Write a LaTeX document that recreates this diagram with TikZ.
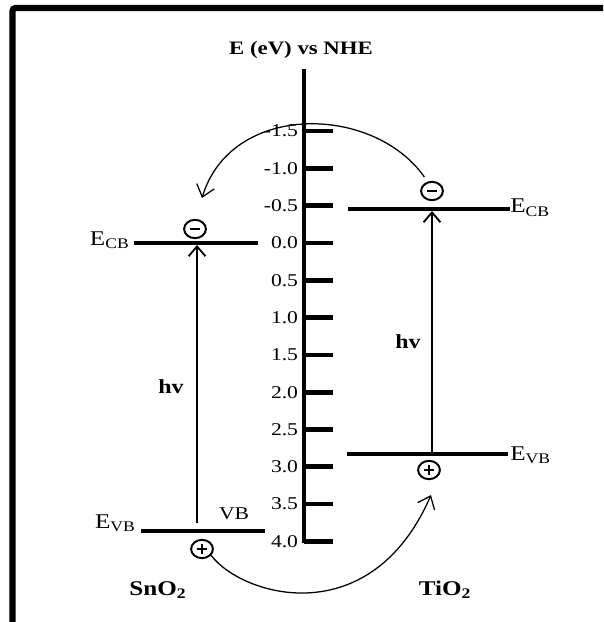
\documentclass[tikz,border=0pt]{standalone}
\usepackage{fontspec}
\setmainfont{Liberation Serif}
\usetikzlibrary{arrows.meta,shapes.geometric}
\newcommand{\pxsize}[1]{\fontsize{#1}{#1}\selectfont}

\begin{document}
\begin{tikzpicture}[x=0.025cm,y=-0.025cm,
    txt/.style={inner sep=0pt,xscale=1.2},
    ttl/.style={txt,font=\pxsize{13.5pt}\bfseries},
    ticklbl/.style={txt,font=\pxsize{12.8pt}},
    elbl/.style={txt,font=\pxsize{14.9pt}},
    matlbl/.style={txt,font=\pxsize{14.9pt}\bfseries},
    hvlbl/.style={txt,font=\pxsize{14.2pt}\bfseries},
    band/.style={line width=2.2pt},
    tickmark/.style={line width=3.4pt},
    charge/.style={draw,ellipse,line width=1.4pt,inner sep=0pt,
      minimum width=15.5pt,minimum height=13pt},
    minus/.style={charge,path picture={
      \draw[line width=1.7pt] ([xshift=-3.3pt]path picture bounding box.center)
        -- ([xshift=3.3pt]path picture bounding box.center);}},
    plus/.style={charge,path picture={
      \draw[line width=1.7pt] ([xshift=-3.3pt]path picture bounding box.center)
        -- ([xshift=3.3pt]path picture bounding box.center);
      \draw[line width=1.7pt] ([yshift=-3.3pt]path picture bounding box.center)
        -- ([yshift=3.3pt]path picture bounding box.center);}},
    excite/.style={line width=1.3pt,-{Straight Barb[length=7pt,width=12pt,line width=1.3pt]}},
    transfer/.style={line width=0.9pt,-{Straight Barb[length=8pt,width=13pt,line width=0.9pt]}}]
  \useasboundingbox (0,0) rectangle (603,622);
  \clip (0,0) rectangle (603,622);
  \draw[line width=4.3pt,rounded corners=2pt] (12.5,8) rectangle (650,670);

  % energy scale
  \node[ttl] (title) at (301,50) {E (eV) vs NHE};
  \draw[line width=2.9pt] (304,69) -- (304,543);
  \foreach \e [count=\i] in {-1.5,-1.0,-0.5,0.0,0.5,1.0,1.5,2.0,2.5,3.0,3.5,4.0} {
    \coordinate (tk\i) at (304,{243+74.6*\e});
    \draw[tickmark] (tk\i) -- ++(29,0);
    \node[ticklbl,anchor=east] (lb\i) at ([xshift=-4pt]tk\i) {\e};
  }

  % SnO2
  \coordinate (snCBl) at (134,243);
  \coordinate (snCBr) at (258,243);
  \coordinate (snVBl) at (141,531);
  \coordinate (snVBr) at (265,531);
  \draw[band] (snCBl) -- (snCBr);
  \draw[band] (snVBl) -- (snVBr);
  \node[elbl,anchor=base east] (snCB) at (130,245) {E\textsubscript{CB}};
  \node[elbl,anchor=base east] (snVB) at (136,528) {E\textsubscript{VB}};
  \node[ticklbl,anchor=base] (vb) at (234,519) {VB};
  \node[minus] (snElec) at (195,229) {};
  \node[plus] (snHole) at (202,549) {};
  \coordinate (snUp0) at (197,523);
  \coordinate (snUp1) at (197,245);
  \draw[excite] (snUp0) -- (snUp1);
  \node[hvlbl] (snHv) at (171,387) {hv};
  \node[matlbl,anchor=base] (sn) at (158,595) {SnO\textsubscript{2}};

  % TiO2
  \coordinate (tiCBl) at (348,209);
  \coordinate (tiCBr) at (510,209);
  \coordinate (tiVBl) at (347,454);
  \coordinate (tiVBr) at (508,454);
  \draw[band] (tiCBl) -- (tiCBr);
  \draw[band] (tiVBl) -- (tiVBr);
  \node[elbl,anchor=base west] (tiCB) at (510,213) {E\textsubscript{CB}};
  \node[elbl,anchor=base west] (tiVB) at (510,460) {E\textsubscript{VB}};
  \node[minus] (tiElec) at (432,191) {};
  \node[plus] (tiHole) at (429,470) {};
  \coordinate (tiUp0) at (432,454);
  \coordinate (tiUp1) at (432,211);
  \draw[excite] (tiUp0) -- (tiUp1);
  \node[hvlbl] (tiHv) at (408,342) {hv};
  \node[matlbl,anchor=base] (ti) at (445,595) {TiO\textsubscript{2}};

  % charge transfer
  \coordinate (cbTip) at (202,198);
  \coordinate (vbTip) at (431,495);
  \draw[transfer,shorten <=4pt] (tiElec.115) .. controls (373,104) and (231,102) .. (cbTip);
  \draw[transfer] (snHole.-35) .. controls (243,597) and (371,633) .. (vbTip);
\end{tikzpicture}
\end{document}
